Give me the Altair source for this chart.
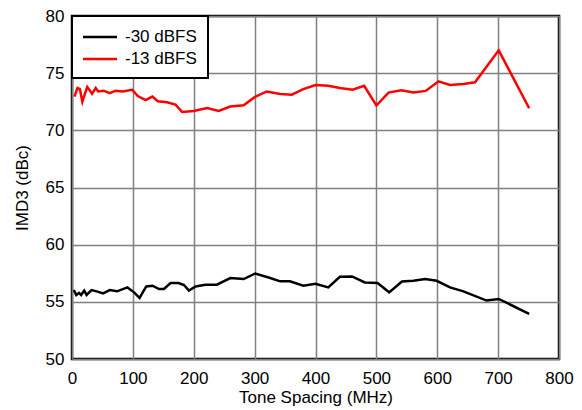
import altair as alt
import pandas as pd

red_x = [4, 9, 13, 17, 25, 33, 39, 43, 52, 62, 72, 83, 99, 108, 121, 132, 141, 156, 170, 181,
         200, 222, 241, 260, 282, 300, 320, 342, 361, 380, 400, 421, 440, 461, 480, 500, 520,
         541, 561, 581, 602, 621, 643, 662, 701, 751]
red_y = [72.95, 73.7, 73.6, 72.5, 73.8, 73.2, 73.7, 73.4, 73.47, 73.26, 73.47, 73.4, 73.55,
         73.0, 72.65, 72.95, 72.54, 72.46, 72.25, 71.6, 71.7, 71.96, 71.7, 72.08, 72.2, 72.9,
         73.4, 73.18, 73.12, 73.6, 73.96, 73.9, 73.7, 73.55, 73.9, 72.17, 73.3, 73.5, 73.3,
         73.45, 74.28, 73.96, 74.05, 74.2, 77.0, 71.93]

black_x = [3, 7, 11.5, 15, 20, 24, 32, 42, 51, 62, 74, 91, 102, 111, 122, 132, 143, 151, 162,
           175, 184, 192, 203, 219, 238, 260, 282, 301, 323, 342, 358, 380, 400, 421, 440, 460,
           481, 502, 521, 542, 561, 580, 599, 621, 643, 681, 701, 751]
black_y = [56.03, 55.6, 55.78, 55.6, 55.98, 55.6, 56.03, 55.89, 55.74, 56.03, 55.92, 56.26,
           55.83, 55.34, 56.35, 56.41, 56.12, 56.13, 56.64, 56.64, 56.47, 55.98, 56.35, 56.5,
           56.5, 57.08, 56.99, 57.48, 57.13, 56.79, 56.79, 56.41, 56.58, 56.26, 57.19, 57.22,
           56.7, 56.64, 55.83, 56.78, 56.84, 56.99, 56.84, 56.26, 55.92, 55.11, 55.25, 53.95]

series_names = ["-30 dBFS", "-13 dBFS"]
series_colors = ["#000000", "#ff0000"]
x_ticks = [0, 100, 200, 300, 400, 500, 600, 700, 800]
y_ticks = [50, 55, 60, 65, 70, 75, 80]

df = pd.concat([
    pd.DataFrame({"x": black_x, "y": black_y, "s": series_names[0], "o": range(len(black_x))}),
    pd.DataFrame({"x": red_x, "y": red_y, "s": series_names[1], "o": range(len(red_x))}),
])

FONT = "Liberation Sans"
FS = 17

chart = alt.Chart(df).mark_line(strokeWidth=2.5).encode(
    x=alt.X("x:Q", scale=alt.Scale(domain=[0, 800], nice=False),
            axis=alt.Axis(values=x_ticks, title="Tone Spacing (MHz)", grid=True)),
    y=alt.Y("y:Q", scale=alt.Scale(domain=[50, 80], nice=False, zero=False),
            axis=alt.Axis(values=y_ticks, title="IMD3 (dBc)", grid=True)),
    color=alt.Color("s:N", scale=alt.Scale(domain=series_names, range=series_colors),
                    legend=alt.Legend(title=None, orient="top-left", offset=0,
                                      strokeColor="black", fillColor="white",
                                      padding=11, symbolType="M-2,0H2", symbolSize=289,
                                      symbolOffset=7,
                                      symbolStrokeWidth=2.5, labelFontSize=FS, labelFont=FONT,
                                      labelColor="black",
                                      rowPadding=4, labelOffset=15)),
    order="o:Q",
).properties(
    width=487, height=343,
    autosize=alt.AutoSizeParams(type="none"),
    padding={"left": 64, "top": 8, "right": 15, "bottom": 51},
).configure_view(
    stroke="black", strokeWidth=2.5,
).configure_axis(
    gridColor="#808080", gridWidth=1.5, gridOpacity=1,
    domain=False, ticks=False, labelFlush=False,
    labelFont=FONT, labelFontSize=FS, labelColor="black",
    titleFont=FONT, titleFontSize=FS, titleFontWeight="normal", titleColor="black",
).configure_axisX(labelPadding=11, titlePadding=3).configure_axisY(
    labelPadding=8, titlePadding=14
).configure_legend(
    strokeWidth=2, cornerRadius=0,
)

chart.save("out.html", embed_options={"renderer": "svg", "actions": False})
